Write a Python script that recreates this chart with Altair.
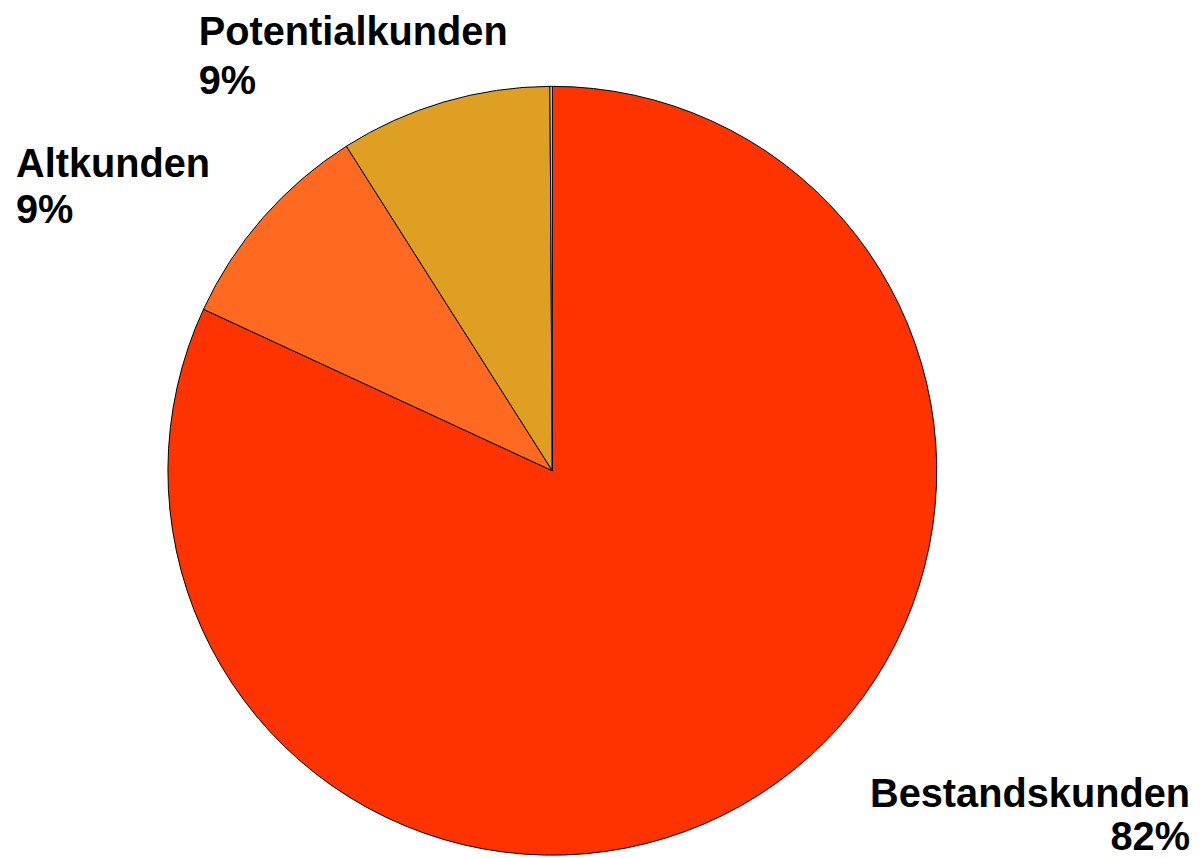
import altair as alt
import pandas as pd

categories = ["Bestandskunden", "Altkunden", "Potentialkunden", "Sonstige"]
values = [81.9, 9.1, 8.9, 0.1]
colors = ["#FF3300", "#FF6A20", "#DE9F22", "#DDDDDD"]

df = pd.DataFrame({"cat": categories, "val": values, "ord": list(range(len(categories)))})

base = alt.Chart(df)

pie = base.mark_arc(outerRadius=387, stroke="black", strokeWidth=1).encode(
    theta=alt.Theta("val:Q", stack=True),
    color=alt.Color("cat:N", scale=alt.Scale(domain=categories, range=colors), legend=None),
    order=alt.Order("ord:Q"),
    x=alt.value(548),
    y=alt.value(463),
)

def label(cat, x, y, align, lh):
    return base.transform_filter(alt.datum.cat == cat).transform_calculate(
        lab=alt.datum.cat + "\n" + alt.expr.format(alt.datum.val, ".0f") + "%"
    ).mark_text(
        font="Liberation Sans", fontWeight="bold", fontSize=40, align=align,
        baseline="alphabetic", lineBreak="\n", lineHeight=lh, color="black"
    ).encode(text="lab:N", x=alt.value(x), y=alt.value(y))

chart = alt.layer(
    pie,
    label("Potentialkunden", 192, 34, "left", 50),
    label("Altkunden", 8, 167, "left", 47),
    label("Bestandskunden", 1190, 802, "right", 43),
).properties(
    width=1194, height=850, padding=0, autosize=alt.AutoSizeParams(type="none")
).configure_view(stroke=None)

chart.save("out.html", embed_options={"renderer": "svg", "actions": False})
